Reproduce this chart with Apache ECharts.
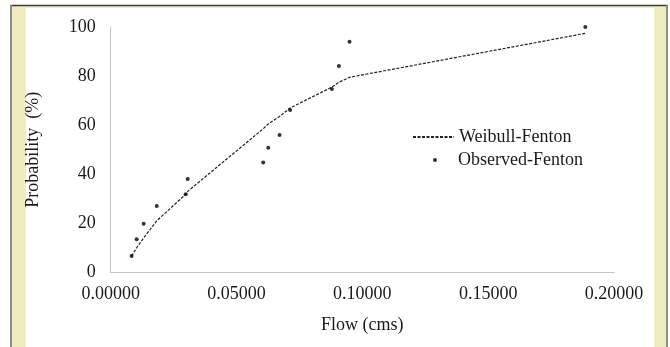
<!DOCTYPE html>
<html>
<head>
<meta charset="utf-8">
<script src="https://cdn.jsdelivr.net/npm/echarts@6/dist/echarts.min.js"></script>
<style>
  html, body { margin: 0; padding: 0; background: #ffffff; }
  #chart { width: 670px; height: 347px; }
</style>
</head>
<body>
<div id="chart"></div>
<script>
// Observed flows (cms) and their plotting probabilities (%)
const observedFlow = [0.0083, 0.0103, 0.0131, 0.0183, 0.0298, 0.0306, 0.0606,
                      0.0626, 0.0671, 0.0713, 0.0879, 0.0907, 0.0949, 0.1886];
const observedProb = [6.6, 13.5, 19.8, 27.0, 31.8, 38.0, 44.8,
                      50.8, 56.0, 66.2, 74.7, 84.1, 94.0, 100];
// Fitted Weibull curve evaluated at the observed flows
const weibullProb  = [6.6, 10.0, 14.0, 21.0, 31.8, 33.0, 58.5,
                      60.5, 63.5, 67.0, 75.5, 77.5, 79.5, 97.4];
const xTicks = [0, 0.05, 0.10, 0.15, 0.20];
const yTicks = [0, 20, 40, 60, 80, 100];

const FONT = 'Liberation Serif';
const TEXT = { fontFamily: FONT, fontSize: 18, color: '#1a1a1a' };

const chart = echarts.init(document.getElementById('chart'), null, { renderer: 'canvas' });

chart.setOption({
  backgroundColor: '#ffffff',
  animation: false,
  graphic: [
    // pale yellow mat with a thin frame around the white panel
    { type: 'rect', z: -10, silent: true, shape: { x: 11, y: 5, width: 656, height: 342 },
      style: { fill: '#efedbf' } },
    { type: 'rect', z: -9, silent: true, shape: { x: 26, y: 8, width: 628, height: 339 },
      style: { fill: '#ffffff' } },
    { type: 'line', z: -8, silent: true, shape: { x1: 10, y1: 5.5, x2: 668, y2: 5.5 },
      style: { stroke: '#3a3a3a', lineWidth: 1.5 } },
    { type: 'line', z: -8, silent: true, shape: { x1: 11, y1: 5, x2: 11, y2: 347 },
      style: { stroke: '#8c8c8c', lineWidth: 2 } },
    { type: 'line', z: -8, silent: true, shape: { x1: 667, y1: 5, x2: 667, y2: 347 },
      style: { stroke: '#8c8c8c', lineWidth: 2 } }
  ],
  grid: { left: 110.7, right: 56, top: 27, bottom: 74.7, containLabel: false },
  legend: [
    {
      // dashed line sample for the fitted curve (marker hidden)
      left: 412,
      top: 128,
      padding: 0,
      itemWidth: 41,
      itemHeight: 14,
      textStyle: TEXT,
      data: [{ name: 'Weibull-Fenton', itemStyle: { opacity: 0 } }]
    },
    {
      // small dot for the observations
      left: 433,
      top: 151,
      padding: 0,
      itemWidth: 4,
      itemHeight: 4,
      itemGap: 0,
      textStyle: Object.assign({ padding: [0, 0, 0, 16] }, TEXT),
      data: [{ name: 'Observed-Fenton', icon: 'circle' }]
    }
  ],
  xAxis: {
    type: 'value',
    min: xTicks[0],
    max: xTicks[xTicks.length - 1],
    interval: xTicks[1] - xTicks[0],
    name: 'Flow (cms)',
    nameLocation: 'middle',
    nameGap: 44,
    nameTextStyle: TEXT,
    axisLine: { show: true, lineStyle: { color: '#c4c4c4', width: 1 } },
    axisTick: { show: false },
    splitLine: { show: false },
    axisLabel: Object.assign({ margin: 13, formatter: v => v.toFixed(5) }, TEXT)
  },
  yAxis: {
    type: 'value',
    min: yTicks[0],
    max: yTicks[yTicks.length - 1],
    interval: yTicks[1] - yTicks[0],
    name: 'Probability  (%)',
    nameLocation: 'middle',
    nameRotate: 90,
    nameGap: 68,
    nameTextStyle: TEXT,
    axisLine: { show: true, lineStyle: { color: '#c4c4c4', width: 1 } },
    axisTick: { show: false },
    splitLine: { show: false },
    axisLabel: Object.assign({ margin: 15 }, TEXT)
  },
  series: [
    {
      name: 'Weibull-Fenton',
      type: 'line',
      symbol: 'none',
      data: observedFlow.map((x, i) => [x, weibullProb[i]]),
      lineStyle: { color: '#222222', width: 1.2, type: [3, 1.5] },
      itemStyle: { color: '#222222' },
      z: 2
    },
    {
      name: 'Observed-Fenton',
      type: 'scatter',
      symbol: 'circle',
      symbolSize: 4,
      data: observedFlow.map((x, i) => [x, observedProb[i]]),
      itemStyle: { color: '#000000' },
      z: 3
    }
  ]
});
</script>
</body>
</html>
